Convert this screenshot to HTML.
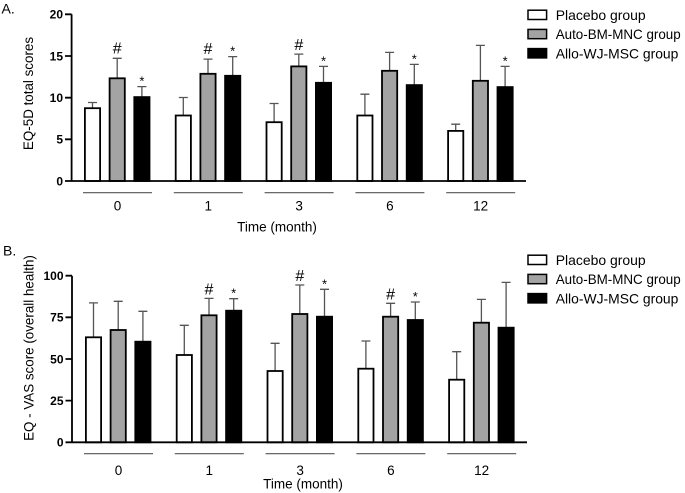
<!DOCTYPE html>
<html><head><meta charset="utf-8"><style>
html,body{margin:0;padding:0;background:#fff;}
svg{display:block;}
text{font-family:"Liberation Sans",Arial,sans-serif;fill:#000;}
.tk{font-size:12px;font-weight:bold;text-anchor:end;}
.gl{font-size:13.5px;text-anchor:middle;}
.lg{font-size:14px;}
.e{stroke:#555;stroke-width:1.3;fill:none;}
.w{fill:#fff;stroke:#000;stroke-width:1.8;}
.g{fill:#a3a3a3;stroke:#000;stroke-width:1.8;}
.b{fill:#000;stroke:#000;stroke-width:1.8;}
.ax{stroke:#000;stroke-width:1.8;fill:none;}
.ul{stroke:#555;stroke-width:1.2;}
.h{font-size:16px;text-anchor:middle;}
.s{font-size:13px;text-anchor:middle;}
</style></head><body>
<svg width="685" height="493" viewBox="0 0 685 493" xmlns="http://www.w3.org/2000/svg">
<!-- Panel A -->
<text x="1.5" y="13.5" style="font-size:14px">A.</text>
<text transform="translate(33,93.5) rotate(-90)" style="font-size:13.4px" text-anchor="middle">EQ-5D total scores</text>
<path class="e" d="M92.5 108.2V102.5M88 102.5H97 M117.2 78.3V58.3M112.7 58.3H121.7 M141.9 97.1V86.6M137.4 86.6H146.4
M183.3 115.5V97.5M178.8 97.5H187.8 M208 73.8V59.1M203.5 59.1H212.5 M232.7 75.8V56.6M228.2 56.6H237.2
M274.1 122.2V103.5M269.6 103.5H278.6 M298.8 66.4V54.1M294.3 54.1H303.3 M323.5 82.8V66.4M319 66.4H328
M364.9 115.5V94.2M360.4 94.2H369.4 M389.6 70.8V52.4M385.1 52.4H394.1 M414.3 85.1V64.4M409.8 64.4H418.8
M455.7 130.9V124.2M451.2 124.2H460.2 M480.4 80.8V45.4M475.9 45.4H484.9 M505.1 87.1V66.4M500.6 66.4H509.6"/>
<rect class="w" x="84.9" y="108.2" width="15.2" height="72.8"/>
<rect class="g" x="109.6" y="78.3" width="15.2" height="102.7"/>
<rect class="b" x="134.3" y="97.1" width="15.2" height="83.9"/>
<rect class="w" x="175.7" y="115.5" width="15.2" height="65.5"/>
<rect class="g" x="200.4" y="73.8" width="15.2" height="107.2"/>
<rect class="b" x="225.1" y="75.8" width="15.2" height="105.2"/>
<rect class="w" x="266.5" y="122.2" width="15.2" height="58.8"/>
<rect class="g" x="291.2" y="66.4" width="15.2" height="114.6"/>
<rect class="b" x="315.9" y="82.8" width="15.2" height="98.2"/>
<rect class="w" x="357.3" y="115.5" width="15.2" height="65.5"/>
<rect class="g" x="382" y="70.8" width="15.2" height="110.2"/>
<rect class="b" x="406.7" y="85.1" width="15.2" height="95.9"/>
<rect class="w" x="448.1" y="130.9" width="15.2" height="50.1"/>
<rect class="g" x="472.8" y="80.8" width="15.2" height="100.2"/>
<rect class="b" x="497.5" y="87.1" width="15.2" height="93.9"/>
<path class="ax" d="M71.6 14.3V181 M65 181H526 M65 14.3H71.6 M65 56H71.6 M65 97.7H71.6 M65 139.3H71.6"/>
<text class="tk" x="63" y="18.6">20</text>
<text class="tk" x="63" y="60.3">15</text>
<text class="tk" x="63" y="102">10</text>
<text class="tk" x="63" y="143.6">5</text>
<text class="tk" x="63" y="185.3">0</text>
<text class="h" x="117.2" y="53.5">#</text>
<text class="h" x="208" y="54">#</text>
<text class="h" x="298.8" y="50">#</text>
<text class="s" x="141.9" y="85.6">*</text>
<text class="s" x="232.7" y="55.6">*</text>
<text class="s" x="323.5" y="65.4">*</text>
<text class="s" x="414.3" y="63.4">*</text>
<text class="s" x="505.1" y="65.4">*</text>
<path class="ul" d="M83 192.7H152 M173.8 192.7H242.8 M264.6 192.7H333.6 M355.4 192.7H424.4 M446.2 192.7H515.2"/>
<text class="gl" x="117.5" y="210.5">0</text>
<text class="gl" x="208.3" y="210.5">1</text>
<text class="gl" x="299.1" y="210.5">3</text>
<text class="gl" x="389.9" y="210.5">6</text>
<text class="gl" x="480.7" y="210.5">12</text>
<text class="gl" x="277" y="231.5">Time (month)</text>
<rect x="528" y="10.2" width="18.6" height="9.3" fill="#fff" stroke="#000" stroke-width="1.5"/>
<rect x="528" y="29.4" width="18.6" height="9.3" fill="#a3a3a3" stroke="#000" stroke-width="1.5"/>
<rect x="528" y="48.6" width="18.6" height="9.3" fill="#000" stroke="#000" stroke-width="1.5"/>
<text class="lg" x="555.7" y="20" textLength="90" lengthAdjust="spacingAndGlyphs">Placebo group</text>
<text class="lg" x="555.7" y="39.2" textLength="125" lengthAdjust="spacingAndGlyphs">Auto-BM-MNC group</text>
<text class="lg" x="555.7" y="58.4" textLength="122.7" lengthAdjust="spacingAndGlyphs">Allo-WJ-MSC group</text>

<!-- Panel B -->
<text x="3" y="255.5" style="font-size:14px">B.</text>
<text transform="translate(33.5,348) rotate(-90)" style="font-size:13.4px" text-anchor="middle">EQ - VAS score (overall health)</text>
<path class="e" d="M93.5 337.3V302.9M89 302.9H98 M118.2 330V301.3M113.7 301.3H122.7 M142.9 341.7V311.3M138.4 311.3H147.4
M184.3 355V325.3M179.8 325.3H188.8 M209 315.3V298.4M204.5 298.4H213.5 M233.7 310.7V298.7M229.2 298.7H238.2
M275.1 371V343.3M270.6 343.3H279.6 M299.8 314V285M295.3 285H304.3 M324.5 316.7V289.3M320 289.3H329
M365.9 368.7V341M361.4 341H370.4 M390.6 316.7V303.3M386.1 303.3H395.1 M415.3 320V302M410.8 302H419.8
M456.7 379.7V351.7M452.2 351.7H461.2 M481.4 322.7V299.4M476.9 299.4H485.9 M506.1 327.7V282.4M501.6 282.4H510.6"/>
<rect class="w" x="85.9" y="337.3" width="15.2" height="105"/>
<rect class="g" x="110.6" y="330" width="15.2" height="112.3"/>
<rect class="b" x="135.3" y="341.7" width="15.2" height="100.6"/>
<rect class="w" x="176.7" y="355" width="15.2" height="87.3"/>
<rect class="g" x="201.4" y="315.3" width="15.2" height="127"/>
<rect class="b" x="226.1" y="310.7" width="15.2" height="131.6"/>
<rect class="w" x="267.5" y="371" width="15.2" height="71.3"/>
<rect class="g" x="292.2" y="314" width="15.2" height="128.3"/>
<rect class="b" x="316.9" y="316.7" width="15.2" height="125.6"/>
<rect class="w" x="358.3" y="368.7" width="15.2" height="73.6"/>
<rect class="g" x="383" y="316.7" width="15.2" height="125.6"/>
<rect class="b" x="407.7" y="320" width="15.2" height="122.3"/>
<rect class="w" x="449.1" y="379.7" width="15.2" height="62.6"/>
<rect class="g" x="473.8" y="322.7" width="15.2" height="119.6"/>
<rect class="b" x="498.5" y="327.7" width="15.2" height="114.6"/>
<path class="ax" d="M72 275.7V442.3 M65.5 442.3H527 M65.5 275.7H72 M65.5 317.3H72 M65.5 359H72 M65.5 400.6H72"/>
<text class="tk" x="63.5" y="280">100</text>
<text class="tk" x="63.5" y="321.6">75</text>
<text class="tk" x="63.5" y="363.3">50</text>
<text class="tk" x="63.5" y="404.9">25</text>
<text class="tk" x="63.5" y="446.6">0</text>
<text class="h" x="209" y="294.4">#</text>
<text class="h" x="299.8" y="281">#</text>
<text class="h" x="390.6" y="299.3">#</text>
<text class="s" x="233.7" y="297.7">*</text>
<text class="s" x="324.5" y="288.3">*</text>
<text class="s" x="415.3" y="301">*</text>
<path class="ul" d="M84 453.7H153 M174.8 453.7H243.8 M265.6 453.7H334.6 M356.4 453.7H425.4 M447.2 453.7H516.2"/>
<text class="gl" x="118.5" y="475">0</text>
<text class="gl" x="209.3" y="475">1</text>
<text class="gl" x="300.1" y="475">3</text>
<text class="gl" x="390.9" y="475">6</text>
<text class="gl" x="481.7" y="475">12</text>
<text class="gl" x="303" y="488.5">Time (month)</text>
<rect x="528" y="255.2" width="18.6" height="9.3" fill="#fff" stroke="#000" stroke-width="1.5"/>
<rect x="528" y="274.4" width="18.6" height="9.3" fill="#a3a3a3" stroke="#000" stroke-width="1.5"/>
<rect x="528" y="293.6" width="18.6" height="9.3" fill="#000" stroke="#000" stroke-width="1.5"/>
<text class="lg" x="555.7" y="265" textLength="90" lengthAdjust="spacingAndGlyphs">Placebo group</text>
<text class="lg" x="555.7" y="284.2" textLength="125" lengthAdjust="spacingAndGlyphs">Auto-BM-MNC group</text>
<text class="lg" x="555.7" y="303.4" textLength="122.7" lengthAdjust="spacingAndGlyphs">Allo-WJ-MSC group</text>
</svg>
</body></html>
